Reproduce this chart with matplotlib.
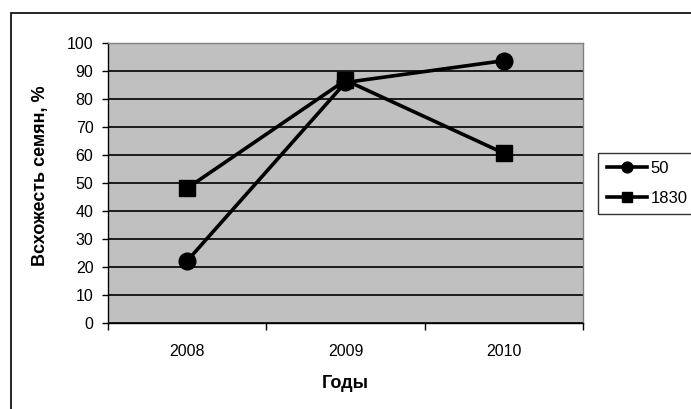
import matplotlib
matplotlib.use("Agg")
import matplotlib.pyplot as plt
from matplotlib.patches import Rectangle

years = ["2008", "2009", "2010"]
series_names = ["50", "1830"]
values_50 = [22.2, 86.0, 93.8]
values_1830 = [48.2, 86.8, 60.7]
y_ticks = [0, 10, 20, 30, 40, 50, 60, 70, 80, 90, 100]

plt.rcParams['font.family'] = ['Liberation Sans', 'DejaVu Sans']

W, H = 691, 409
fig = plt.figure(figsize=(W / 100, H / 100), dpi=100)
fig.patch.set_facecolor('white')

# outer chart border
fig.patches.append(Rectangle((11 / W, -0.1), 1.2, 1 - 12.7 / H + 0.1,
                             transform=fig.transFigure, fill=False,
                             edgecolor='black', linewidth=1.2))

ax = fig.add_axes([108 / W, 1 - 323 / H, (583 - 108) / W, (323 - 43.3) / H])
ax.set_facecolor('#c0c0c0')

x = list(range(len(years)))
ax.plot(x, values_50, color='black', lw=2.6, marker='o', ms=12,
        label=series_names[0], zorder=3)
ax.plot(x, values_1830, color='black', lw=2.6, marker='s', ms=12,
        label=series_names[1], zorder=4)

ax.set_xlim(-0.5, len(years) - 0.5)
ax.set_ylim(0, 100)
ax.set_yticks(y_ticks)
ax.set_yticklabels([str(v) for v in y_ticks], fontsize=11.5)
ax.yaxis.grid(True, color='black', lw=1.2)
ax.set_axisbelow(True)

ax.set_xticks(x)
ax.set_xticklabels(years, fontsize=11.5)
ax.tick_params(axis='x', which='major', length=0, pad=15)
ax.set_xticks([i - 0.5 for i in range(len(years) + 1)], minor=True)
ax.tick_params(axis='x', which='minor', length=5, width=1, color='black', direction='out')
ax.tick_params(axis='y', length=4.5, width=1, color='black', direction='out', pad=6)

for s in ['top', 'right']:
    ax.spines[s].set_color('#808080')
    ax.spines[s].set_linewidth(1)
for s in ['left', 'bottom']:
    ax.spines[s].set_color('black')
    ax.spines[s].set_linewidth(1)

fig.text(345 / W, 1 - 383 / H, 'Годы', fontsize=13, fontweight='bold',
         ha='center', va='center')
fig.text(41 / W, 1 - 176 / H, 'Всхожесть семян, %', fontsize=13,
         fontweight='bold', ha='center', va='center', rotation=90)

leg = ax.legend(loc='upper left', bbox_to_anchor=(598.3 / W, 1 - 152.7 / H),
                bbox_transform=fig.transFigure, frameon=True, fancybox=False,
                edgecolor='black', fontsize=12, handlelength=2.45,
                handletextpad=0.2, borderpad=0.5, labelspacing=0.9,
                borderaxespad=0, markerscale=0.65)
leg.get_frame().set_linewidth(1)

fig.savefig('out.png', dpi=100)
